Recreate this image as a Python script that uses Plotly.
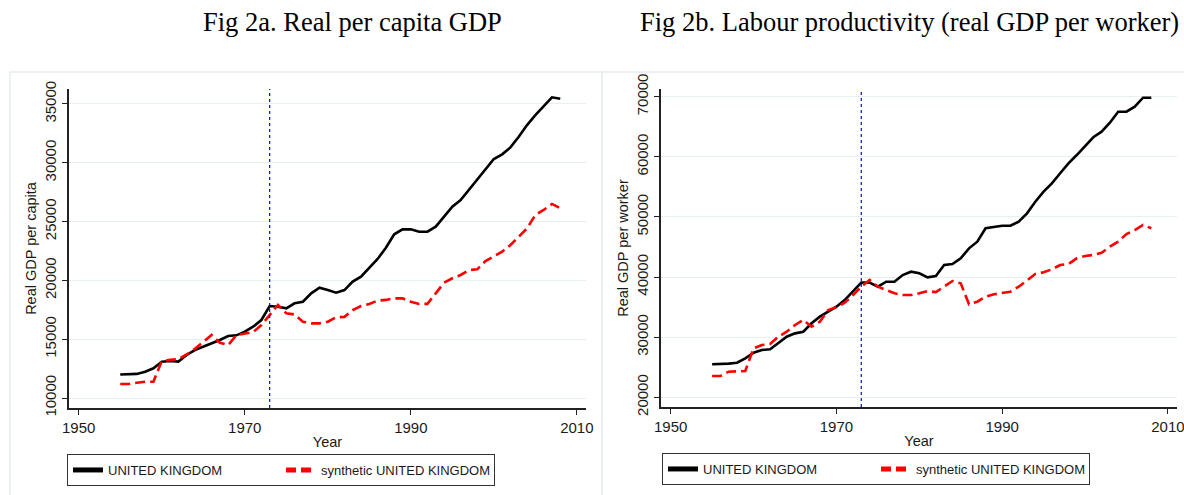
import plotly.graph_objects as go

years = list(range(1955, 2009))

uk_gdp_pc = [12000, 12000, 12050, 12240, 12525, 13090, 13150, 13100, 13660, 14080,
             14360, 14590, 14930, 15270, 15330, 15640, 16060, 16630, 17820, 17760,
             17630, 18050, 18190, 18900, 19380, 19180, 18960, 19180, 19900, 20320,
             21030, 21820, 22780, 23920, 24340, 24340, 24140, 24140, 24570, 25420,
             26270, 26840, 27690, 28540, 29390, 30320, 30720, 31310, 32220, 33210,
             34060, 34860, 35570, 35450]

synth_gdp_pc = [11190, 11190, 11300, 11380, 11380, 13150, 13240, 13300, 13700, 14190,
                14760, 15360, 14700, 14500, 15360, 15500, 15600, 16200, 17060, 17910,
                17200, 17100, 16490, 16350, 16350, 16490, 16860, 16900, 17480, 17820,
                18000, 18280, 18340, 18470, 18470, 18190, 18000, 18000, 18900, 19800,
                20180, 20460, 20880, 20940, 21650, 22020, 22440, 23010, 23720, 24430,
                25560, 25990, 26500, 26130]

uk_gdp_pw = [25490, 25490, 25600, 25760, 26490, 27420, 27870, 27980, 29080, 30080,
             30640, 30910, 32310, 33410, 34240, 35070, 36180, 37570, 39070, 39070,
             38400, 39230, 39230, 40340, 40890, 40620, 39960, 40180, 42010, 42170,
             43120, 44780, 45880, 48110, 48380, 48540, 48540, 49210, 50600, 52530,
             54200, 55590, 57260, 58920, 60300, 61800, 63250, 64180, 65680, 67500,
             67500, 68340, 69830, 69830]

synth_gdp_pw = [23540, 23540, 24260, 24370, 24370, 28150, 28700, 28870, 30080, 30910,
                32030, 32860, 31750, 32580, 34520, 34970, 35730, 37010, 38400, 39510,
                38400, 37850, 37300, 37010, 37010, 37300, 37680, 37500, 38400, 39340,
                38960, 35470, 35900, 36740, 37130, 37300, 37570, 38400, 39510, 40510,
                40790, 41290, 42010, 42170, 43120, 43500, 43670, 44050, 45050, 45880,
                47160, 47830, 48660, 48110]

treatment_year = 1973
x_ticks = [1950, 1970, 1990, 2010]
y_ticks_a = [10000, 15000, 20000, 25000, 30000, 35000]
y_ticks_b = [20000, 30000, 40000, 50000, 60000, 70000]
series_names = ["UNITED KINGDOM", "synthetic UNITED KINGDOM"]
titles = ["Fig 2a. Real per capita GDP", "Fig 2b. Labour productivity (real GDP per worker)"]
y_titles = ["Real GDP per capita", "Real GDP per worker"]

W, H = 1184, 495
def px(x):
    return x / W
def py(y):
    return 1 - y / H

fig = go.Figure()

LINE_W = 2.6
DASH = "10px,5px"
fig.add_trace(go.Scatter(x=years, y=uk_gdp_pc, mode="lines", name=series_names[0],
                         line=dict(color="black", width=LINE_W), xaxis="x", yaxis="y", legend="legend"))
fig.add_trace(go.Scatter(x=years, y=synth_gdp_pc, mode="lines", name=series_names[1],
                         line=dict(color="#ff0000", width=LINE_W, dash=DASH), xaxis="x", yaxis="y", legend="legend"))
fig.add_trace(go.Scatter(x=years, y=uk_gdp_pw, mode="lines", name=series_names[0],
                         line=dict(color="black", width=LINE_W), xaxis="x2", yaxis="y2", legend="legend2"))
fig.add_trace(go.Scatter(x=years, y=synth_gdp_pw, mode="lines", name=series_names[1],
                         line=dict(color="#ff0000", width=LINE_W, dash=DASH), xaxis="x2", yaxis="y2", legend="legend2"))

tick_font = dict(family="Liberation Sans, Arial, sans-serif", size=15, color="#1a1a1a")
title_font = dict(family="Liberation Sans, Arial, sans-serif", size=14.5, color="#1a1a1a")

def xaxis(domain, anchor):
    return dict(domain=domain, anchor=anchor, range=[1948.83, 2011.1], tickvals=x_ticks,
                tickformat="d", automargin=False, ticklabeloverflow="allow",
                showgrid=False, zeroline=False, showline=True, linecolor="#222", linewidth=1.5,
                ticks="outside", ticklen=5, tickwidth=1.2, tickcolor="#222", tickfont=tick_font,
                title=dict(text="Year", font=title_font, standoff=2))

def yaxis(domain, anchor, rng, tv, title):
    return dict(domain=domain, anchor=anchor, range=rng, tickvals=tv, tickangle=-90,
                tickformat="d", automargin=False, ticklabeloverflow="allow",
                showgrid=True, gridcolor="#e6eff2", gridwidth=1.2, zeroline=False,
                showline=True, linecolor="#222", linewidth=1.5,
                ticks="outside", ticklen=5, tickwidth=1.2, tickcolor="#222", tickfont=tick_font,
                title=dict(text=title, font=title_font, standoff=2))

legend_common = dict(orientation="h", xanchor="left", yanchor="top",
                     bordercolor="#333", borderwidth=1, bgcolor="white",
                     font=dict(family="Liberation Sans, Arial, sans-serif", size=13, color="#1a1a1a"),
                     entrywidth=168, entrywidthmode="pixels", itemsizing="constant")

fig.update_layout(
    width=W, height=H, margin=dict(l=0, r=0, t=0, b=0, autoexpand=False),
    paper_bgcolor="white", plot_bgcolor="white",
    xaxis=xaxis([px(69), px(586)], "y"),
    yaxis=yaxis([py(408), py(89)], "x", [9150, 36275], y_ticks_a, y_titles[0]),
    xaxis2=xaxis([px(661), px(1177)], "y2"),
    yaxis2=yaxis([py(407), py(89)], "x2", [18390, 71280], y_ticks_b, y_titles[1]),
    legend=dict(x=px(67), y=py(454), **legend_common),
    legend2=dict(x=px(662), y=py(453), **legend_common),
    showlegend=True,
)

shapes = []
shapes.append(dict(type="rect", xref="paper", yref="paper", x0=px(10), x1=px(602), y0=py(500), y1=py(72),
                   line=dict(color="#e6eef1", width=1.5), layer="below"))
shapes.append(dict(type="rect", xref="paper", yref="paper", x0=px(602), x1=px(1190), y0=py(500), y1=py(72),
                   line=dict(color="#e6eef1", width=1.5), layer="below"))
for xr, yr in [("x", "y domain"), ("x2", "y2 domain")]:
    shapes.append(dict(type="line", xref=xr, yref=yr, x0=treatment_year, x1=treatment_year, y0=0, y1=1,
                       line=dict(color="#0000ff", width=1.2, dash="dot")))
fig.update_layout(shapes=shapes)

serif = dict(family="Liberation Serif, Times New Roman, serif", size=26.5, color="black")
fig.add_annotation(text=titles[0], xref="paper", yref="paper", x=px(352), y=py(22),
                   xanchor="center", yanchor="middle", showarrow=False, font=serif)
fig.add_annotation(text=titles[1], xref="paper", yref="paper", x=px(909), y=py(22),
                   xanchor="center", yanchor="middle", showarrow=False, font=serif)

fig.write_html("out.html", config={"displayModeBar": False},
               post_script="document.body.style.margin='0';document.body.style.overflow='hidden';")
